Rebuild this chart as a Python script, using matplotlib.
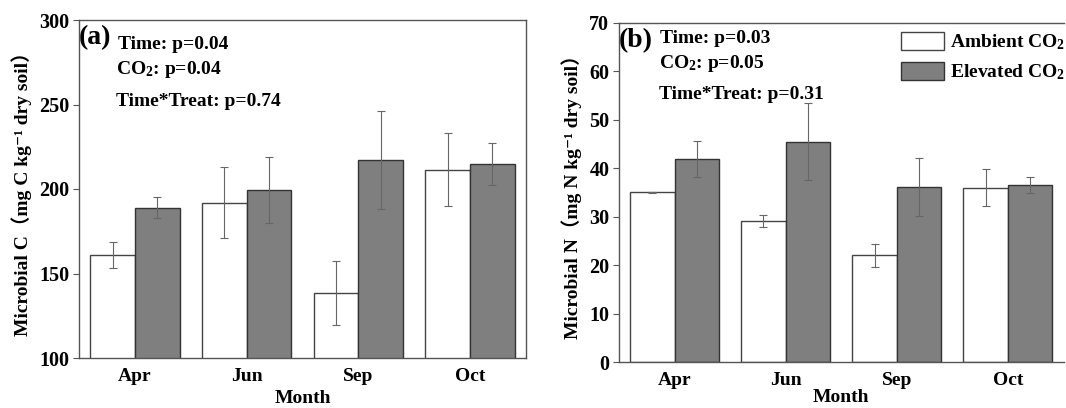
import matplotlib
matplotlib.use("Agg")
import matplotlib.pyplot as plt
import numpy as np

plt.rcParams['font.family'] = ['Liberation Serif', 'DejaVu Serif', 'Noto Sans CJK SC']
plt.rcParams['font.weight'] = 'bold'
plt.rcParams['mathtext.fontset'] = 'custom'
plt.rcParams['mathtext.rm'] = 'Liberation Serif:bold'
plt.rcParams['mathtext.it'] = 'Liberation Serif:bold'
plt.rcParams['mathtext.bf'] = 'Liberation Serif:bold'
plt.rcParams['mathtext.default'] = 'rm'

months = ['Apr', 'Jun', 'Sep', 'Oct']
series = ['Ambient CO$_2$', 'Elevated CO$_2$']

c_ambient = [161, 192, 138.6, 211.4]
c_ambient_err = [7.5, 21, 19, 21.7]
c_elevated = [189, 199.5, 217, 215]
c_elevated_err = [6, 19.5, 29, 12.5]

n_ambient = [35, 29.1, 22, 36]
n_ambient_err = [0.1, 1.2, 2.4, 3.8]
n_elevated = [42, 45.5, 36.2, 36.6]
n_elevated_err = [3.7, 8, 6, 1.7]

stats_a = ['Time: p=0.04', 'CO$_2$: p=0.04', 'Time*Treat: p=0.74']
stats_b = ['Time: p=0.03', 'CO$_2$: p=0.05', 'Time*Treat: p=0.31']

W, H = 1066, 408
fig = plt.figure(figsize=(W / 100, H / 100), dpi=100)

spine_col = '#555555'
amb_face = 'white'
amb_edge = '#444444'
elev_face = '#7f7f7f'
elev_edge = '#333333'
err_col = '#666666'

TICK_FS = 14.5
LAB_FS = 14
STAT_FS = 14


def px_axes(l, r, t, b):
    return fig.add_axes([l / W, 1 - b / H, (r - l) / W, (b - t) / H])


def draw(ax, amb, amb_e, elev, elev_e, ylim, yticks, ylabel, tag, xlabelpad):
    x = np.arange(len(months))
    w = 0.4
    ax.bar(x - w / 2, amb, w, color=amb_face, edgecolor=amb_edge, linewidth=1.0,
           label=series[0], zorder=2)
    ax.bar(x + w / 2, elev, w, color=elev_face, edgecolor=elev_edge, linewidth=1.0,
           label=series[1], zorder=2)
    ax.errorbar(x - w / 2, amb, yerr=amb_e, fmt='none', ecolor=err_col, elinewidth=0.8,
                capsize=3, capthick=0.8, zorder=3)
    ax.errorbar(x + w / 2, elev, yerr=elev_e, fmt='none', ecolor=err_col, elinewidth=0.8,
                capsize=3, capthick=0.8, zorder=3)
    ax.set_xlim(-0.5, 3.5)
    ax.set_ylim(*ylim)
    ax.set_yticks(yticks)
    ax.set_xticks(x)
    ax.set_xticklabels(months, fontsize=LAB_FS, fontweight='bold')
    ax.tick_params(axis='x', length=0, pad=7)
    ax.tick_params(axis='y', direction='out', length=4, width=0.8, color=spine_col,
                   labelsize=TICK_FS, pad=3)
    for lab in ax.get_yticklabels():
        lab.set_fontweight('bold')
    for s in ax.spines.values():
        s.set_color(spine_col)
        s.set_linewidth(1.0)
    ax.set_xlabel('Month', fontsize=LAB_FS, fontweight='bold', labelpad=xlabelpad)
    ax.set_ylabel(ylabel, fontsize=LAB_FS, fontweight='bold', labelpad=5)
    ax.text(0.0, 0.985, tag, transform=ax.transAxes, fontsize=20, fontweight='bold',
            va='top', ha='left')


ax1 = px_axes(79, 526, 20, 358)
draw(ax1, c_ambient, c_ambient_err, c_elevated, c_elevated_err, (100, 300),
     [100, 150, 200, 250, 300], 'Microbial C（mg C kg⁻¹ dry soil）', '(a)', 4)
ys_a = [49, 74, 106]
xs_a = [118, 116, 116]
for t, xx, yy in zip(stats_a, xs_a, ys_a):
    fig.text(xx / W, 1 - yy / H, t, fontsize=STAT_FS, fontweight='bold', va='baseline', ha='left')

ax2 = px_axes(619, 1063.5, 23, 362)
draw(ax2, n_ambient, n_ambient_err, n_elevated, n_elevated_err, (0, 70),
     list(range(0, 71, 10)), 'Microbial N（mg N kg⁻¹ dry soil）', '(b)', 0)
ax2.spines['right'].set_visible(False)
ys_b = [43, 68, 99]
xs_b = [660, 659, 659]
for t, xx, yy in zip(stats_b, xs_b, ys_b):
    fig.text(xx / W, 1 - yy / H, t, fontsize=STAT_FS, fontweight='bold', va='baseline', ha='left')

leg = ax2.legend(loc='upper left', bbox_to_anchor=((897 - 619) / (1063.5 - 619), 0.985),
                 frameon=False, fontsize=LAB_FS, handlelength=2.2, handleheight=1.05,
                 handletextpad=0.3, labelspacing=0.5, borderaxespad=0, borderpad=0.2)
for t in leg.get_texts():
    t.set_fontweight('bold')

fig.savefig('out.png', dpi=100)
